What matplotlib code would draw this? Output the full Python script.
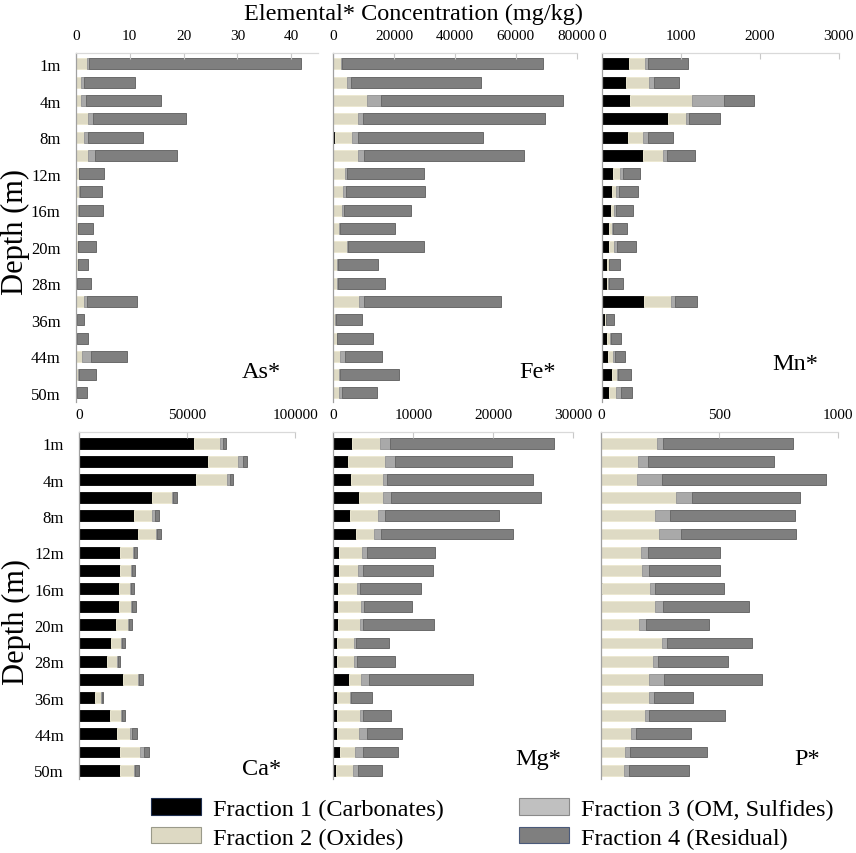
import matplotlib
matplotlib.use("Agg")
import matplotlib.pyplot as plt
from matplotlib.patches import Patch
import numpy as np

plt.rcParams['font.family'] = ['Liberation Serif', 'DejaVu Serif']

depth_labels = ['1m', '', '4m', '', '8m', '', '12m', '', '16m', '', '20m', '',
                '28m', '', '36m', '', '44m', '', '50m']

fraction_names = ['Fraction 1 (Carbonates)', 'Fraction 2 (Oxides)',
                  'Fraction 3 (OM, Sulfides)', 'Fraction 4 (Residual)']

# ---- As ----
as_f1 = [0]*19
as_f2 = [2.1, 0.9, 0.9, 2.2, 1.4, 2.3, 0.55, 0.55, 0.3, 0.4, 0.4, 0.3, 0.2, 1.4, 0.1, 0.1, 1.05, 0.4, 0.1]
as_f3 = [0.4, 0.6, 0.9, 1.0, 0.9, 1.2, 0.1, 0.25, 0.3, 0.05, 0.05, 0.05, 0.05, 0.7, 0.05, 0.05, 1.75, 0.1, 0.05]
as_f4 = [39.4, 9.4, 14.0, 17.3, 10.1, 15.2, 4.55, 4.0, 4.4, 2.75, 3.35, 1.85, 2.45, 9.2, 1.4, 2.05, 6.75, 3.3, 1.85]

# ---- Fe ----
fe_f1 = [0, 0, 0, 0, 500, 0, 0, 0, 0, 0, 0, 0, 0, 0, 0, 0, 0, 0, 0]
fe_f2 = [2400, 4600, 11000, 8200, 5800, 8200, 3800, 3100, 3000, 2000, 4400, 1200, 1300, 8500, 660, 1100, 2300, 2000, 1750]
fe_f3 = [440, 1100, 4700, 1400, 1750, 2000, 770, 1100, 440, 200, 440, 200, 330, 1600, 200, 200, 1400, 330, 1100]
fe_f4 = [65960, 43000, 59900, 59900, 41150, 52500, 25230, 26000, 22060, 18200, 24860, 13300, 15470, 45000, 8640, 11600, 12300, 19370, 11350]

# ---- Mn ----
mn_f1 = [350, 308, 359, 844, 333, 527, 139, 127, 114, 97, 93, 72, 72, 540, 42, 68, 80, 127, 97]
mn_f2 = [198, 295, 785, 228, 194, 253, 93, 59, 42, 34, 67, 17, 13, 333, 8, 42, 59, 63, 84]
mn_f3 = [34, 59, 405, 34, 63, 51, 34, 30, 25, 8, 30, 8, 8, 55, 8, 8, 25, 17, 63]
mn_f4 = [507, 313, 379, 388, 313, 355, 219, 240, 216, 182, 245, 139, 173, 283, 94, 131, 131, 160, 140]

# ---- Ca ----
ca_f1 = [52900, 59400, 54200, 33500, 25500, 27200, 19000, 18700, 18400, 18200, 17100, 14700, 12800, 20400, 7300, 14000, 17400, 18700, 19000]
ca_f2 = [12200, 14000, 14300, 9400, 8200, 8500, 5700, 5200, 5200, 5600, 5400, 4600, 4500, 6600, 2800, 5100, 6300, 9600, 6200]
ca_f3 = [1200, 2200, 1200, 600, 1200, 500, 600, 500, 500, 500, 600, 500, 500, 800, 300, 500, 600, 1700, 500]
ca_f4 = [1700, 2200, 1600, 1600, 1800, 1400, 1500, 1500, 1400, 1800, 1300, 1300, 1000, 1500, 700, 1700, 2200, 2100, 2100]

# ---- Mg ----
mg_f1 = [2375, 1875, 2210, 3210, 2125, 2790, 750, 710, 540, 580, 625, 460, 460, 1960, 500, 460, 460, 830, 375]
mg_f2 = [3460, 4580, 4040, 3040, 3500, 2330, 2875, 2330, 2420, 2920, 2710, 2170, 2170, 1540, 1625, 2875, 2790, 1920, 2125]
mg_f3 = [1250, 1210, 420, 920, 830, 875, 540, 625, 375, 290, 420, 210, 330, 1000, 80, 330, 960, 960, 625]
mg_f4 = [20540, 14710, 18330, 18750, 14255, 16425, 8545, 8835, 7625, 6085, 8825, 4160, 4710, 13000, 2625, 3585, 4415, 4415, 3000]

# ---- P ----
p_f1 = [0, 0, 0, 0, 0, 0, 0, 2, 6, 0, 0, 2, 1, 0, 0, 0, 0, 0, 0]
p_f2 = [236, 159, 152, 316, 231, 248, 169, 171, 202, 231, 162, 257, 220, 205, 204, 188, 128, 103, 97]
p_f3 = [28, 41, 108, 69, 63, 89, 31, 31, 23, 31, 30, 21, 20, 62, 20, 14, 21, 21, 22]
p_f4 = [549, 533, 689, 458, 526, 487, 304, 298, 289, 362, 266, 359, 296, 415, 164, 321, 231, 325, 255]

panels = [
    ('As*', [as_f1, as_f2, as_f3, as_f4], 45, [0, 10, 20, 30, 40]),
    ('Fe*', [fe_f1, fe_f2, fe_f3, fe_f4], 80000, [0, 20000, 40000, 60000, 80000]),
    ('Mn*', [mn_f1, mn_f2, mn_f3, mn_f4], 3000, [0, 1000, 2000, 3000]),
    ('Ca*', [ca_f1, ca_f2, ca_f3, ca_f4], 100000, [0, 50000, 100000]),
    ('Mg*', [mg_f1, mg_f2, mg_f3, mg_f4], 30000, [0, 10000, 20000, 30000]),
    ('P*',  [p_f1, p_f2, p_f3, p_f4], 1000, [0, 500, 1000]),
]

W, H = 856, 854
fig = plt.figure(figsize=(W/100, H/100), dpi=100)

bar_colors = ['#000000', '#dedac4', '#a9a9a9', '#7f7f7f']
bar_edges = ['#101010', '#ece8d2', '#9a9a9a', '#6a6a6a']
leg_colors = ['#000000', '#ddd9c3', '#c0c0c0', '#7f7f7f']
leg_edges = ['#1f2f4f', '#9a9a8a', '#8a8a8a', '#4a5a7a']

# axes boxes in pixels: (left, right, top, bottom)
boxes = [
    (76, 318, 54, 403),
    (333.3, 576.7, 54, 403),
    (601.7, 838.7, 54, 403),
    (79.3, 295.3, 433.3, 780.3),
    (333.3, 573.3, 433.3, 780.3),
    (600.7, 837.7, 433.3, 780.3),
]
label_pos = [(261, 373), (538, 372), (795, 365), (262, 770), (538, 760), (807, 760)]

y = np.arange(len(depth_labels))
for i, ((name, fracs, xmax, xticks), (l, r, t, b)) in enumerate(zip(panels, boxes)):
    ax = fig.add_axes([l/W, 1-b/H, (r-l)/W, (b-t)/H])
    left = np.zeros(len(y))
    for k, vals in enumerate(fracs):
        v = np.array(vals, dtype=float)
        ax.barh(y, v, left=left, height=0.6, color=bar_colors[k],
                edgecolor=bar_edges[k], linewidth=0.7)
        left += v
    ax.set_xlim(0, xmax)
    ax.set_ylim(18.5, -0.6)
    ax.xaxis.tick_top()
    ax.set_xticks(xticks)
    ax.set_xticklabels([str(v) for v in xticks])
    ax.tick_params(axis='x', direction='in', length=4, color='#c8c8c8',
                   labelsize=11, pad=8)
    ax.set_yticks(y)
    if i % 3 == 0:
        ax.set_yticklabels(depth_labels)
    else:
        ax.set_yticklabels([])
    ax.tick_params(axis='y', length=0, labelsize=12, pad=11)
    for s in ['right', 'bottom']:
        ax.spines[s].set_visible(False)
    ax.spines['top'].set_color('#d9d9d9')
    ax.spines['left'].set_color('#a0a0a0')
    ax.spines['top'].set_linewidth(0.9)
    ax.spines['left'].set_linewidth(0.9)
    ax.set_facecolor('none')
    px, py = label_pos[i]
    fig.text(px/W, 1-py/H, name, ha='center', va='center', fontsize=17.5)

fig.text(413/W, 1-14/H, 'Elemental* Concentration (mg/kg)', ha='center',
         va='center', fontsize=17.5)
fig.text(15/W, 1-232/H, 'Depth (m)', rotation=90, ha='center', va='center', fontsize=22)
fig.text(16/W, 1-622/H, 'Depth (m)', rotation=90, ha='center', va='center', fontsize=22)

handles = [Patch(facecolor=leg_colors[k], edgecolor=leg_edges[k], linewidth=0.8,
                 label=fraction_names[k]) for k in range(4)]
fig.legend(handles=handles, loc='upper left', bbox_to_anchor=(151/W, 1-799/H),
           ncol=2, frameon=False, fontsize=17.5, handlelength=2.05,
           handleheight=0.68, handletextpad=0.5, columnspacing=3.1,
           labelspacing=0.28, borderpad=0, borderaxespad=0)

fig.savefig('out.png', dpi=100)
